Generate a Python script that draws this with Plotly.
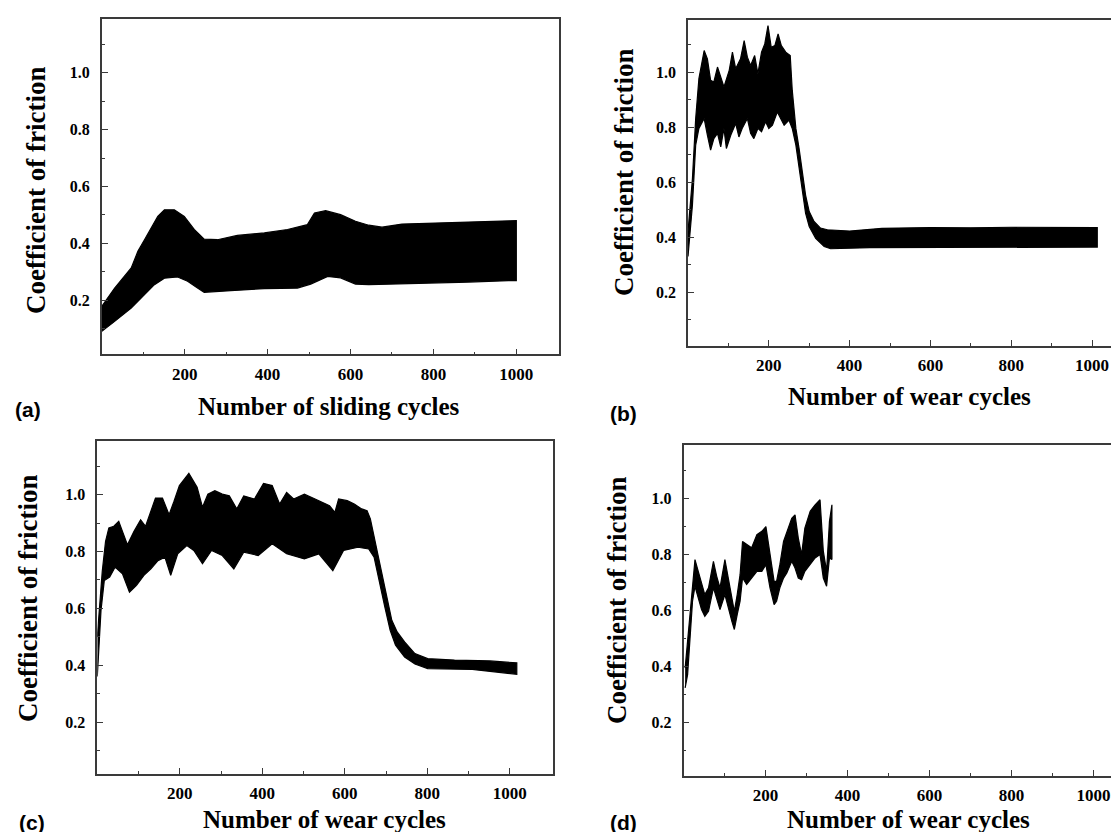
import plotly.graph_objects as go

# ---------------- data ----------------
# Panel (a): sliding cycles, envelope of the friction band
a_up_x = [0, 31, 71, 87, 103, 119, 135, 151, 175, 199, 223, 247, 279, 327, 392, 448, 496, 513, 540, 576, 612, 644, 676, 724, 805, 885, 981, 1000]
a_up_y = [0.179, 0.243, 0.314, 0.372, 0.413, 0.454, 0.495, 0.518, 0.518, 0.495, 0.449, 0.415, 0.413, 0.428, 0.437, 0.449, 0.466, 0.507, 0.515, 0.501, 0.478, 0.464, 0.457, 0.468, 0.472, 0.475, 0.480, 0.480]
a_lo_x = [0, 31, 71, 103, 127, 151, 183, 207, 231, 247, 311, 392, 472, 504, 545, 576, 612, 644, 724, 805, 885, 981, 1000]
a_lo_y = [0.091, 0.126, 0.173, 0.220, 0.255, 0.278, 0.282, 0.267, 0.243, 0.228, 0.234, 0.241, 0.243, 0.257, 0.284, 0.279, 0.257, 0.255, 0.257, 0.261, 0.264, 0.269, 0.269]

# Panel (b): wear cycles
b_up_x = [0, 11, 19, 27, 40, 48, 56, 64, 73, 81, 89, 102, 110, 118, 130, 139, 147, 155, 165, 173, 182, 190, 198, 206, 215, 223, 231, 242, 253, 258, 267, 275, 283, 291, 300, 312, 328, 345, 400, 480, 600, 700, 800, 900, 1013]
b_up_y = [0.42, 0.613, 0.831, 0.976, 1.078, 1.048, 0.970, 0.964, 1.018, 0.982, 0.946, 1.006, 1.072, 1.012, 1.048, 1.114, 1.054, 1.024, 1.060, 0.994, 1.072, 1.102, 1.169, 1.090, 1.096, 1.138, 1.096, 1.072, 1.060, 0.934, 0.795, 0.722, 0.638, 0.553, 0.493, 0.457, 0.433, 0.427, 0.422, 0.432, 0.435, 0.434, 0.436, 0.435, 0.435]
b_lo_x = [0, 11, 19, 27, 40, 48, 56, 64, 73, 81, 89, 95, 106, 118, 126, 134, 147, 155, 163, 173, 182, 192, 200, 209, 221, 229, 238, 250, 258, 267, 275, 283, 291, 300, 316, 337, 353, 450, 600, 800, 1013]
b_lo_y = [0.33, 0.517, 0.734, 0.795, 0.831, 0.771, 0.716, 0.758, 0.777, 0.728, 0.795, 0.722, 0.771, 0.813, 0.764, 0.795, 0.831, 0.777, 0.758, 0.795, 0.783, 0.819, 0.795, 0.807, 0.855, 0.831, 0.807, 0.825, 0.795, 0.734, 0.650, 0.565, 0.487, 0.439, 0.396, 0.366, 0.358, 0.362, 0.363, 0.364, 0.364]

# Panel (c): wear cycles
c_up_x = [0, 12, 20, 28, 40, 52, 61, 73, 89, 105, 117, 129, 141, 158, 174, 186, 199, 222, 242, 255, 268, 285, 303, 320, 338, 355, 381, 403, 424, 442, 459, 476, 502, 528, 545, 563, 576, 585, 606, 623, 641, 654, 662, 675, 688, 701, 714, 727, 745, 770, 801, 866, 952, 1017]
c_up_y = [0.50, 0.730, 0.836, 0.883, 0.889, 0.906, 0.871, 0.824, 0.871, 0.912, 0.889, 0.936, 0.988, 0.988, 0.930, 0.977, 1.032, 1.075, 1.026, 0.956, 1.002, 1.014, 1.002, 0.996, 0.950, 0.996, 0.985, 1.040, 1.032, 0.967, 1.008, 0.985, 1.002, 0.985, 0.973, 0.961, 0.938, 0.985, 0.979, 0.967, 0.950, 0.944, 0.915, 0.827, 0.733, 0.640, 0.558, 0.517, 0.482, 0.441, 0.423, 0.418, 0.415, 0.408]
c_lo_x = [0, 9, 17, 30, 43, 61, 78, 95, 113, 130, 147, 164, 178, 195, 217, 234, 255, 277, 303, 331, 355, 390, 424, 459, 502, 537, 571, 597, 632, 658, 671, 684, 697, 710, 723, 745, 770, 801, 909, 1017]
c_lo_y = [0.36, 0.593, 0.698, 0.710, 0.745, 0.722, 0.657, 0.681, 0.716, 0.739, 0.768, 0.780, 0.716, 0.792, 0.821, 0.804, 0.757, 0.804, 0.786, 0.739, 0.798, 0.786, 0.827, 0.792, 0.774, 0.792, 0.733, 0.804, 0.815, 0.809, 0.780, 0.698, 0.605, 0.523, 0.470, 0.429, 0.404, 0.388, 0.385, 0.368]

# Panel (d): wear cycles (test stopped early)
d_x = [4, 10, 16, 22, 28, 36, 44, 52, 61, 73, 81, 89, 101, 109, 118, 124, 131, 138, 144, 154, 166, 179, 191, 201, 211, 221, 227, 235, 244, 252, 264, 272, 280, 288, 296, 309, 321, 333, 341, 349, 356, 362]
d_up_y = [0.394, 0.49, 0.597, 0.704, 0.782, 0.740, 0.693, 0.657, 0.681, 0.776, 0.722, 0.681, 0.782, 0.716, 0.633, 0.597, 0.657, 0.728, 0.847, 0.835, 0.824, 0.871, 0.883, 0.900, 0.800, 0.704, 0.704, 0.764, 0.847, 0.883, 0.930, 0.942, 0.859, 0.800, 0.895, 0.955, 0.978, 0.996, 0.812, 0.740, 0.919, 0.978]
d_lo_y = [0.323, 0.37, 0.502, 0.633, 0.686, 0.645, 0.603, 0.579, 0.597, 0.681, 0.639, 0.603, 0.657, 0.609, 0.561, 0.532, 0.585, 0.633, 0.716, 0.693, 0.716, 0.740, 0.740, 0.764, 0.681, 0.621, 0.633, 0.681, 0.716, 0.734, 0.776, 0.752, 0.716, 0.710, 0.740, 0.764, 0.788, 0.800, 0.716, 0.687, 0.788, 0.782]

x_tick_vals = [200, 400, 600, 800, 1000]
y_tick_vals = [0.2, 0.4, 0.6, 0.8, 1.0]
y_tick_text = ["0.2", "0.4", "0.6", "0.8", "1.0"]
panel_letters = ["(a)", "(b)", "(c)", "(d)"]
x_titles = ["Number of sliding cycles", "Number of wear cycles", "Number of wear cycles", "Number of wear cycles"]
y_title = "Coefficient of friction"

# ---------------- layout geometry ----------------
W, H = 1119, 832
SERIF = "Liberation Serif, Times New Roman, serif"
SANS = "Liberation Sans, Arial, sans-serif"

panels = [
    dict(xd=(93.8, 551), yd=(10.6, 346.4), xr=(0, 1103), yr=(0.01, 1.19), right=True),
    dict(xd=(680, 1119), yd=(11.7, 337.9), xr=(0, 1086.6), yr=(0.005, 1.19), right=False),
    dict(xd=(89.3, 544.6), yd=(433.3, 766), xr=(0, 1103.8), yr=(0.017, 1.188), right=True),
    dict(xd=(675.5, 1119), yd=(436.7, 767.7), xr=(0, 1081.7), yr=(0.009, 1.193), right=False),
]

fig = go.Figure()

bands = [
    (a_up_x, a_up_y, a_lo_x, a_lo_y),
    (b_up_x, b_up_y, b_lo_x, b_lo_y),
    (c_up_x, c_up_y, c_lo_x, c_lo_y),
    (d_x, d_up_y, d_x, d_lo_y),
]

layout = dict(
    width=W, height=H, margin=dict(l=0, r=0, t=0, b=0),
    paper_bgcolor="white", plot_bgcolor="white", showlegend=False,
    font=dict(family=SERIF, color="black"),
)
annotations = []
AX = "#3a3a3a"

for i, (p, band) in enumerate(zip(panels, bands)):
    n = "" if i == 0 else str(i + 1)
    ux, uy, lx, ly = band
    fig.add_trace(go.Scatter(
        x=list(ux) + list(lx)[::-1], y=list(uy) + list(ly)[::-1],
        fill="toself", fillcolor="black", mode="lines",
        line=dict(color="black", width=1.2), hoverinfo="skip",
        xaxis="x" + n, yaxis="y" + n,
    ))
    x0, x1 = p["xd"][0] / W, min(p["xd"][1] / W, 1.0)
    y0, y1 = 1 - p["yd"][1] / H, 1 - p["yd"][0] / H
    layout["xaxis" + n] = dict(
        domain=[x0, x1], range=list(p["xr"]), anchor="y" + n,
        showline=True, linecolor=AX, linewidth=1.5, mirror=True,
        showgrid=False, zeroline=False,
        ticks="inside", ticklen=6, tickwidth=1.3, tickcolor=AX,
        tickvals=x_tick_vals, ticktext=[str(v) for v in x_tick_vals],
        tickfont=dict(family=SERIF, size=17, color="black", weight="bold"),
        ticklabelstandoff=3,
        minor=dict(tickvals=[100, 300, 500, 700, 900], ticks="inside", ticklen=3, tickwidth=1, tickcolor=AX),
        fixedrange=True,
    )
    layout["yaxis" + n] = dict(
        domain=[y0, y1], range=list(p["yr"]), anchor="x" + n,
        showline=True, linecolor=AX, linewidth=1.5, mirror=p["right"],
        showgrid=False, zeroline=False,
        ticks="inside", ticklen=6, tickwidth=1.3, tickcolor=AX,
        tickvals=y_tick_vals, ticktext=y_tick_text,
        tickfont=dict(family=SERIF, size=16, color="black", weight="bold"),
        ticklabelstandoff=7,
        minor=dict(tickvals=[0.1, 0.3, 0.5, 0.7, 0.9, 1.1], ticks="inside", ticklen=3, tickwidth=1, tickcolor=AX),
        fixedrange=True,
    )

# titles and panel letters (pixel positions)
ytitle_pos = [(28, 183), (616, 165), (20, 591), (609, 593)]
xtitle_pos = [(321, 398), (901, 388), (316, 811), (900, 811)]
letter_pos = [(20, 401), (615, 405), (24, 814), (615, 814)]

for i in range(4):
    xp, yp = ytitle_pos[i]
    annotations.append(dict(
        x=xp / W, y=1 - yp / H, xref="paper", yref="paper", showarrow=False,
        text=y_title, textangle=-90, xanchor="center", yanchor="middle",
        font=dict(family=SERIF, size=27, color="black", weight="bold"),
    ))
    xp, yp = xtitle_pos[i]
    annotations.append(dict(
        x=xp / W, y=1 - yp / H, xref="paper", yref="paper", showarrow=False,
        text=x_titles[i], xanchor="center", yanchor="middle",
        font=dict(family=SERIF, size=25, color="black", weight="bold"),
    ))
    xp, yp = letter_pos[i]
    annotations.append(dict(
        x=xp / W, y=1 - yp / H, xref="paper", yref="paper", showarrow=False,
        text=panel_letters[i], xanchor="center", yanchor="middle",
        font=dict(family=SANS, size=21, color="black", weight="bold"),
    ))

layout["annotations"] = annotations
fig.update_layout(**layout)
fig.write_html("out.html")
